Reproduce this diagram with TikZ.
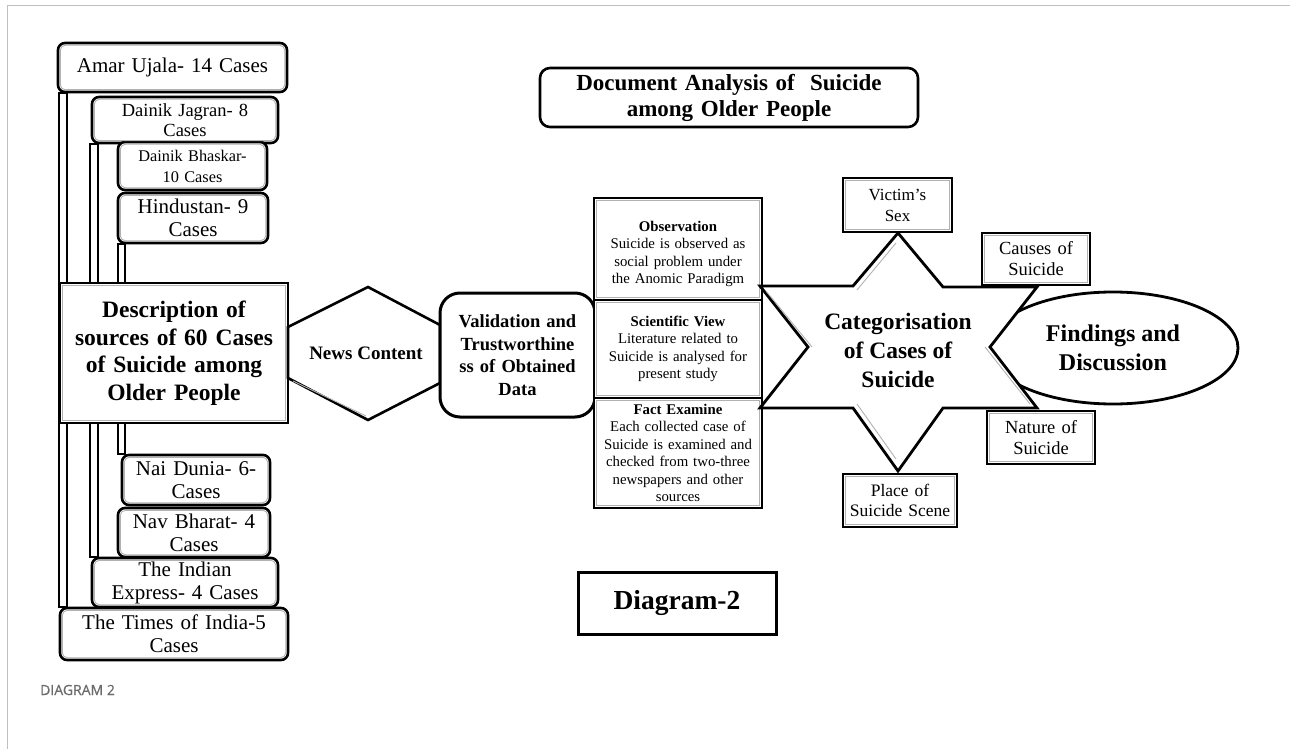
\documentclass[tikz,border=0pt]{standalone}
\usepackage{fontspec}
\setmainfont{Liberation Serif}
\newfontfamily\capfont[FakeBold=0.6]{Open Sans}
\usetikzlibrary{shapes.geometric,backgrounds,calc}
\newcommand{\fs}[2]{\fontsize{#1}{#2}\selectfont}
\tikzset{
  src/.style={draw=black, line width=2.6pt, rounded corners=7pt, fill=white, inner sep=0pt, align=center},
  sqbox/.style={draw=black, line width=2.8pt, fill=white, inner sep=0pt, align=center},
  bar/.style={draw=black, line width=2pt, fill=white},
  shade/.style={draw=black!30, line width=0.9pt},
  frameline/.style={draw=black!25, line width=1pt},
  starline/.style={draw=black, line width=2.8pt, fill=white, line join=miter},
}
\newcommand{\inset}[2]{\draw[shade, rounded corners=#2] ([shift={(3.6pt,-3.6pt)}]#1.north west) rectangle ([shift={(-3.6pt,3.6pt)}]#1.south east);}
\begin{document}
\begin{tikzpicture}[x=1pt,y=-1pt]
\useasboundingbox (0,0) rectangle (1290,749);

% ---------- left column ----------
\node[src, minimum width=229pt, minimum height=49pt, text width=222pt, font=\fs{21}{23}] (amar) at (172.5,67.5) {Amar Ujala- 14 Cases};
\node[src, minimum width=186pt, minimum height=46pt, text width=180pt, font=\fs{18.5}{20}] (jagran) at (185,120) {Dainik Jagran- 8\\Cases};
\node[src, minimum width=149pt, minimum height=48pt, text width=143pt, font=\fs{16.3}{21}] (bhaskar) at (192.5,166) {Dainik Bhaskar-\\10 Cases};
\node[src, minimum width=150pt, minimum height=50pt, text width=144pt, font=\fs{21}{23}] (hindustan) at (193,218) {Hindustan- 9\\Cases};
\node[sqbox, minimum width=228pt, minimum height=140pt, text width=222pt, font=\bfseries\fs{23.5}{27.5}] (desc) at (174,353) {Description of\\sources of 60 Cases\\of Suicide among\\Older People};
\node[src, minimum width=148pt, minimum height=50pt, text width=142pt, font=\fs{21}{23}] (naidunia) at (196,480) {Nai Dunia- 6-\\Cases};
\node[src, minimum width=152pt, minimum height=49pt, text width=146pt, font=\fs{21}{23}] (navbharat) at (194,532.5) {Nav Bharat- 4\\Cases};
\node[src, minimum width=186pt, minimum height=49pt, text width=182pt, font=\fs{21}{23}] (express) at (185,582.5) {The Indian\\Express- 4 Cases};
\node[src, minimum width=228pt, minimum height=52pt, text width=222pt, font=\fs{21}{23}] (times) at (174,634) {The Times of India-5\\Cases};
\foreach \n in {amar,jagran,bhaskar,hindustan,naidunia,navbharat,express,times} {\inset{\n}{5pt}}
\inset{desc}{0pt}

% ---------- title ----------
\node[src, rounded corners=10pt, minimum width=378pt, minimum height=59pt, text width=370pt, font=\bfseries\fs{23}{26}] (title) at (729,97.5) {Document Analysis of\ \ Suicide\\among Older People};

% ---------- news content hexagon ----------
\draw[starline, line width=2.6pt] (288,327) -- (368,287) -- (440,325) -- (440,383) -- (368,420) -- (288,378) -- cycle;
\draw[shade] (293,381) -- (366,416);
\node[font=\bfseries\fs{19}{22}] (news) at (366,353) {News Content};

% ---------- validation ----------
\node[src, rounded corners=20pt, line width=3pt, minimum width=155pt, minimum height=124pt, text width=152pt, font=\bfseries\fs{18.5}{22.5}] (valid) at (517.5,355) {Validation and\\Trustworthine\\ss of Obtained\\Data};

% ---------- three stacked boxes ----------
\node[sqbox, minimum width=168pt, minimum height=102pt, text width=162pt, font=\fs{14.8}{17.5}] (obs) at (678,249) {\rule{0pt}{20pt}\textbf{Observation}\\Suicide is observed as\\social problem under\\the Anomic Paradigm};
\node[sqbox, minimum width=168pt, minimum height=98pt, text width=162pt, font=\fs{14.8}{17.5}] (sci) at (678,349) {\textbf{Scientific View}\\Literature related to\\Suicide is analysed for\\present study};
\node[sqbox, minimum width=168pt, minimum height=110pt, text width=164pt, font=\fs{14.8}{17.5}] (fact) at (678,453) {\textbf{Fact Examine}\\Each collected case of\\Suicide is examined and\\checked from two-three\\newspapers and other\\sources};
\foreach \n in {obs,sci,fact} {\inset{\n}{0pt}}

% ---------- findings ellipse ----------
\node[ellipse, draw=black, line width=2.8pt, fill=white, minimum width=250pt, minimum height=112pt, inner sep=0pt, align=center, font=\bfseries\fs{24}{29}] (findings) at (1113,348) {Findings and\\Discussion};

% ---------- star ----------
\draw[starline] (760,286) -- (853,286) -- (898,233) -- (943,287) -- (1037,287) -- (990,347) -- (1037,408) -- (943,408) -- (898,471) -- (853,408) -- (760,408) -- (808,347) -- cycle;
\draw[shade] (766,291) -- (812,347);
\draw[shade] (857,290) -- (896,243);
\draw[shade] (857,404) -- (896,459);
\draw[shade] (1030,404) -- (985,347);
\node[align=center, font=\bfseries\fs{23.5}{29}] (cat) at (898,350) {Categorisation\\of Cases of\\Suicide};

% ---------- category boxes ----------
\node[sqbox, minimum width=109pt, minimum height=54pt, text width=105pt, font=\fs{17}{21}] (victim) at (897.5,205) {Victim’s\\Sex};
\node[sqbox, minimum width=108pt, minimum height=52pt, text width=104pt, font=\fs{18.5}{21}] (causes) at (1036,259) {Causes of\\Suicide};
\node[sqbox, minimum width=108pt, minimum height=53pt, text width=104pt, font=\fs{18.5}{21}] (nature) at (1041,437.5) {Nature of\\Suicide};
\node[sqbox, minimum width=114pt, minimum height=53pt, text width=110pt, font=\fs{17.5}{20}] (place) at (900,500.5) {Place of\\Suicide Scene};
\foreach \n in {victim,causes,nature,place} {\inset{\n}{0pt}}

% ---------- diagram label ----------
\node[sqbox, line width=3pt, minimum width=198pt, minimum height=62pt, font=\bfseries\fs{27.5}{30}] (diag) at (677,603) {Diagram-2};

% ---------- caption ----------
\node[anchor=west, inner sep=0pt, text=black!58, font=\capfont\fs{14}{16}] (caption) at (40,690) {DIAGRAM 2};

% ---------- background: frame and bars ----------
\begin{scope}[on background layer]
\fill[white] (0,0) rectangle (1290,749);
\draw[frameline] (7,749) -- (7,6) -- (1290,6);
\draw[bar] ($(amar.south west)+(2pt,0)$) rectangle ($(amar.south west |- times.north)+(10pt,0)$);
\draw[bar] ($(jagran.south west)+(-1pt,0)$) rectangle ($(jagran.south west |- express.north)+(7pt,0)$);
\draw[bar] ($(hindustan.south west)+(1.5pt,0)$) rectangle ($(hindustan.south west |- naidunia.north)+(8.5pt,0)$);
\end{scope}
\end{tikzpicture}
\end{document}
